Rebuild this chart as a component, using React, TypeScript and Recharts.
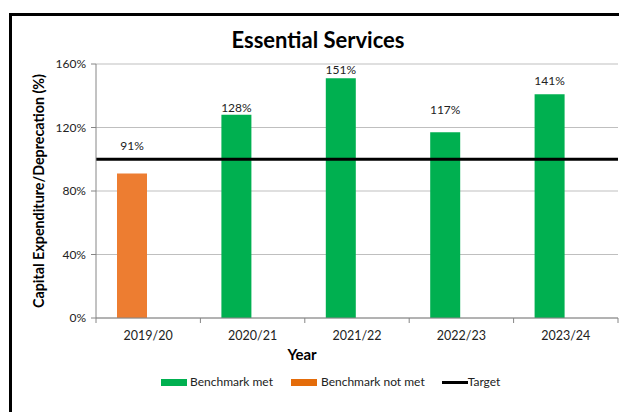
import React from "react"
import {
  BarChart,
  Bar,
  XAxis,
  YAxis,
  CartesianGrid,
  Cell,
  LabelList,
  ReferenceLine,
} from "recharts"

const years = ["2019/20", "2020/21", "2021/22", "2022/23", "2023/24"]
const ratios = [91, 128, 151, 117, 141]
const target = 100
const yTicks = [0, 40, 80, 120, 160]

const MET = "#00B050"
const NOT_MET = "#ED7D31"
const NOT_MET_KEY = "#E46C0A"
const FONT = "Lato, 'Noto Sans', sans-serif"

// how far each data label sits above its bar (hand placed in the original)
const labelLift = [28, 7, 9, 23, 14]

const data = years.map((year, i) => ({
  year,
  ratio: ratios[i],
  spacer: 0,
}))

function ValueLabel(props: any) {
  const { x, y, width, value, index } = props
  return (
    <text
      x={x + width / 2}
      y={y - labelLift[index]}
      textAnchor="middle"
      dominantBaseline="central"
      fontSize={12}
      fontFamily={FONT}
      fill="#222"
    >
      {value}%
    </text>
  )
}

function YearTick(props: any) {
  const { x, y, payload, index } = props
  const half = payload.offset ?? 0
  return (
    <g>
      <line x1={x - half} x2={x - half} y1={y - 8} y2={y - 3} stroke="#868686" />
      {index === years.length - 1 && (
        <line x1={x + half} x2={x + half} y1={y - 8} y2={y - 3} stroke="#868686" />
      )}
      <text
        x={x}
        y={y + 9}
        textAnchor="middle"
        dominantBaseline="central"
        fontSize={12.5}
        fontFamily={FONT}
        fill="#222"
      >
        {payload.value}
      </text>
    </g>
  )
}

export default function App() {
  return (
    <div
      style={{
        position: "absolute",
        left: 0,
        top: 0,
        width: 619,
        height: 412,
        overflow: "hidden",
        background: "#fff",
        fontFamily: FONT,
      }}
    >
      <div
        style={{
          position: "absolute",
          left: 9,
          top: 13,
          width: 700,
          height: 500,
          border: "3px solid #000",
        }}
      />
      <div
        style={{
          position: "absolute",
          left: 0,
          top: 26,
          width: 636,
          textAlign: "center",
          fontSize: 22,
          fontWeight: 700,
          color: "#000",
        }}
      >
        Essential Services
      </div>

      <div style={{ position: "absolute", left: 0, top: 0 }}>
        <BarChart
          width={619}
          height={412}
          data={data}
          margin={{ top: 64, right: 1, bottom: 64, left: 0 }}
          barSize={30}
          barGap={2}
        >
          <CartesianGrid vertical={false} stroke="#BFBFBF" />
          <XAxis
            dataKey="year"
            height={30}
            axisLine={{ stroke: "#868686" }}
            tickLine={false}
            tick={<YearTick />}
            interval={0}
            label={(p: any) => {
              const vb = p.viewBox
              return (
                <text
                  x={vb.x + 206}
                  y={vb.y + 36}
                  textAnchor="middle"
                  dominantBaseline="central"
                  fontSize={15}
                  fontWeight={700}
                  fontFamily={FONT}
                  fill="#000"
                >
                  Year
                </text>
              )
            }}
          />
          <YAxis
            width={96}
            domain={[0, 160]}
            ticks={yTicks}
            interval={0}
            axisLine={{ stroke: "#868686" }}
            tickLine={{ stroke: "#868686" }}
            tickSize={5}
            tickMargin={5}
            tickFormatter={(v) => `${v}%`}
            tick={{ fontSize: 12, fontFamily: FONT, fill: "#222" }}
            label={(p: any) => {
              const vb = p.viewBox
              const cx = vb.x + 38
              const cy = vb.y + vb.height / 2
              return (
                <text
                  x={cx}
                  y={cy}
                  transform={`rotate(-90, ${cx}, ${cy})`}
                  textAnchor="middle"
                  dominantBaseline="central"
                  fontSize={14.3}
                  fontWeight={700}
                  fontFamily={FONT}
                  fill="#000"
                >
                  Capital Expenditure/Deprecation (%)
                </text>
              )
            }}
          />
          <Bar dataKey="ratio" isAnimationActive={false}>
            {data.map((d, i) => (
              <Cell key={`c-${i}`} fill={d.ratio >= target ? MET : NOT_MET} />
            ))}
            <LabelList dataKey="ratio" content={<ValueLabel />} />
          </Bar>
          <Bar dataKey="spacer" fill="none" isAnimationActive={false} />
          <ReferenceLine y={target} stroke="#000" strokeWidth={3} />
        </BarChart>
      </div>

      <div
        style={{
          position: "absolute",
          top: 374,
          left: 161,
          display: "flex",
          alignItems: "center",
          fontSize: 12,
          color: "#222",
          whiteSpace: "nowrap",
          lineHeight: "16px",
        }}
      >
        <span style={{ width: 26, height: 7, background: MET, marginRight: 3 }} />
        <span style={{ marginRight: 18 }}>Benchmark met</span>
        <span style={{ width: 26, height: 7, background: NOT_MET_KEY, marginRight: 4 }} />
        <span style={{ marginRight: 17 }}>Benchmark not met</span>
        <span style={{ width: 26, height: 3, background: "#000" }} />
        <span>Target</span>
      </div>
    </div>
  )
}
